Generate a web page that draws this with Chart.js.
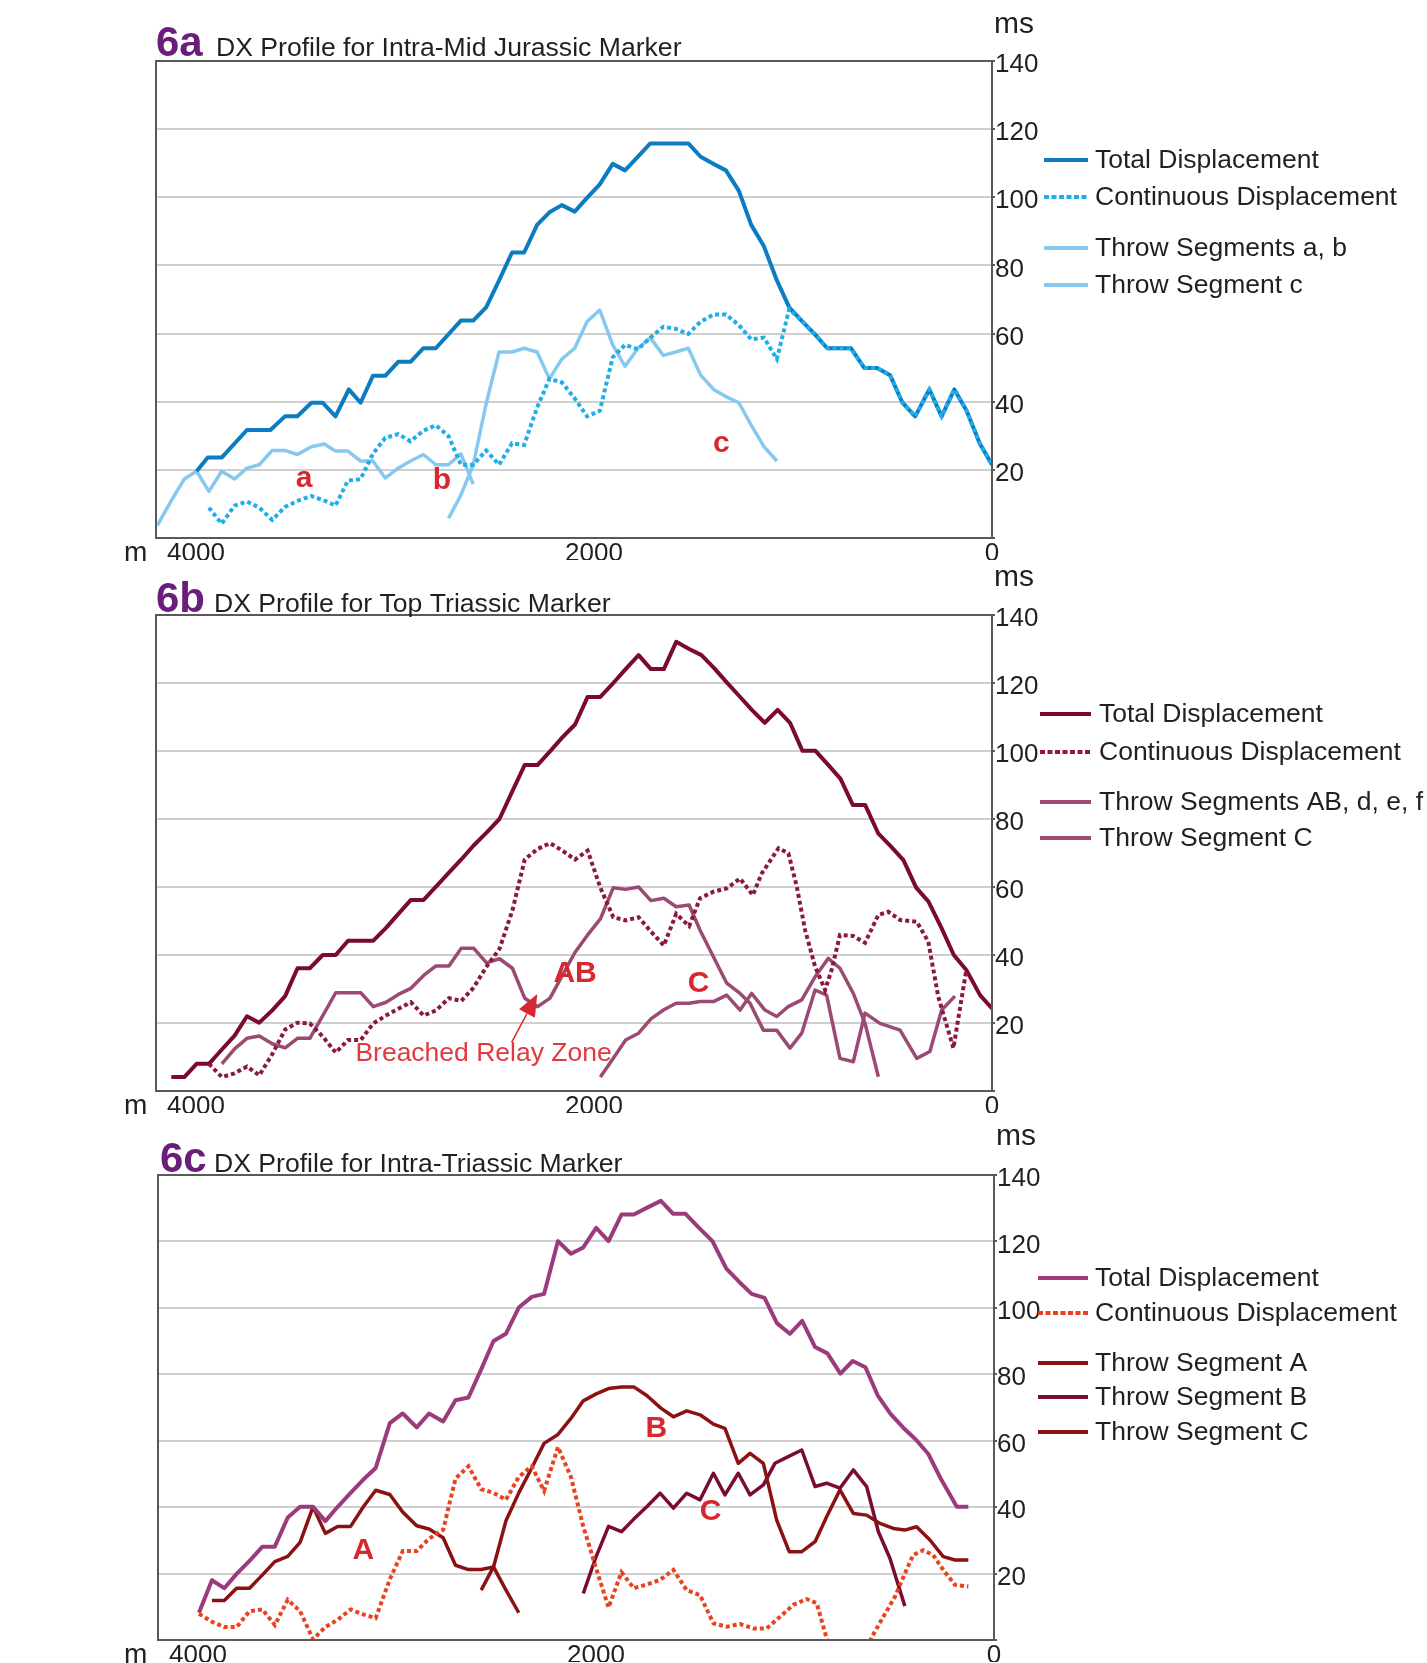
<!DOCTYPE html>
<html>
<head>
<meta charset="utf-8">
<script src="https://cdn.jsdelivr.net/npm/chart.js@4.4.1/dist/chart.umd.min.js"></script>
<style>
  html, body { margin: 0; padding: 0; background: #fff; }
  #wrap { position: relative; width: 1427px; height: 1663px; overflow: hidden; }
  canvas { position: absolute; left: 0; }
</style>
</head>
<body>
<div id="wrap">
  <canvas id="chart-a" width="1427" height="575" style="top:0px"></canvas>
  <canvas id="chart-b" width="1427" height="575" style="top:555px"></canvas>
  <canvas id="chart-c" width="1427" height="553" style="top:1110px"></canvas>
</div>
<script>
// shared axes
const xTicks = [4000, 2000, 0];
const yTicks = [0, 20, 40, 60, 80, 100, 120, 140];

// 6a Intra-Mid Jurassic marker  [distance m, ms]
const jurTotal = [[3997,19.6],[3941,23.6],[3871,23.6],[3744,31.7],[3626,31.7],[3553,35.7],[3491,35.7],[3420,39.7],[3364,39.7],[3299,35.7],[3232,43.6],[3173,39.7],[3111,47.6],[3049,47.6],[2984,51.7],[2922,51.7],[2857,55.7],[2795,55.7],[2669,63.8],[2607,63.8],[2542,67.7],[2477,75.6],[2412,83.8],[2351,83.8],[2286,91.9],[2224,95.6],[2162,97.7],[2097,95.8],[2035,99.8],[1971,103.8],[1906,109.8],[1844,107.9],[1779,111.9],[1717,115.8],[1590,115.8],[1526,115.8],[1464,111.9],[1399,109.8],[1337,107.9],[1272,101.9],[1210,91.9],[1146,85.6],[1081,75.6],[1019,67.7],[957,63.8],[892,59.9],[828,55.7],[709,55.7],[642,49.9],[577,49.9],[512,47.8],[450,39.7],[386,35.7],[315,43.6],[253,35.7],[189,43.6],[127,37.3],[62,27.8],[0,21.5]];
const jurContinuous = [[3935,8.9],[3871,4.2],[3806,9.5],[3744,10.7],[3682,8.9],[3617,5.3],[3553,9.1],[3485,11.0],[3420,12.3],[3355,11.0],[3299,9.5],[3237,16.8],[3173,17.3],[3111,24.7],[3049,29.4],[2984,30.5],[2922,28.4],[2857,31.5],[2795,33.1],[2731,29.9],[2669,21.5],[2607,21.5],[2542,25.7],[2477,21.5],[2412,27.8],[2351,27.3],[2286,38.3],[2224,46.7],[2162,45.7],[2097,41.0],[2035,35.7],[1971,37.3],[1906,53.0],[1844,56.7],[1779,55.4],[1717,58.8],[1652,62.0],[1590,61.4],[1526,59.9],[1464,63.5],[1399,65.6],[1337,65.6],[1272,62.5],[1210,58.3],[1146,58.8],[1081,52.5],[1019,67.2],[957,63.8],[892,59.9],[828,55.7],[709,55.7],[642,49.9],[577,49.9],[512,47.8],[450,39.7],[386,35.7],[315,43.6],[253,35.7],[189,43.6],[127,37.3],[62,27.8],[0,21.5]];
const jurThrowA = [[4194,3.7],[4124,11.0],[4059,17.3],[3997,19.6],[3935,13.7],[3871,19.6],[3806,17.3],[3744,20.5],[3682,21.5],[3617,25.7],[3553,25.7],[3491,24.5],[3420,26.8],[3355,27.6],[3299,25.5],[3237,25.5],[3173,22.6],[3111,22.6],[3049,17.6],[2984,20.5],[2922,22.6],[2857,24.5],[2795,21.5],[2731,21.5],[2669,24.7],[2607,15.8]];
const jurThrowB = [[2731,5.8],[2669,12.6],[2607,21.5],[2542,39.4],[2477,54.6],[2412,54.6],[2351,55.7],[2286,54.6],[2224,46.7]];
const jurThrowC = [[2224,46.7],[2162,52.5],[2097,55.7],[2035,63.5],[1971,66.9],[1906,56.7],[1844,50.4],[1779,55.7],[1717,58.8],[1652,53.6],[1590,54.6],[1526,55.7],[1464,47.8],[1399,43.6],[1337,41.5],[1272,39.7],[1210,33.1],[1146,26.8],[1081,22.6]];
const jurNotes = [['a',3457,17.3],['b',2764,16.8],['c',1360,27.8]];

// 6b Top Triassic marker
const topTotal = [[4124,4.1],[4059,4.1],[3997,8.0],[3935,8.0],[3870,12.2],[3806,16.3],[3744,22.0],[3682,20.1],[3617,23.7],[3552,27.9],[3490,36.1],[3428,36.1],[3363,40.0],[3298,40.0],[3236,44.2],[3109,44.2],[3045,48.0],[2983,52.1],[2920,56.2],[2856,56.2],[2794,60.1],[2729,64.2],[2667,68.1],[2605,72.2],[2540,76.0],[2475,80.0],[2410,88.2],[2348,95.9],[2283,95.9],[2221,99.9],[2159,104.0],[2095,107.8],[2032,115.9],[1968,115.9],[1903,120.0],[1841,124.1],[1776,128.2],[1714,124.1],[1649,124.1],[1587,132.1],[1522,130.0],[1460,128.2],[1395,124.3],[1333,120.2],[1269,116.1],[1207,112.1],[1142,108.3],[1077,112.1],[1015,108.3],[953,100.1],[888,100.1],[823,95.9],[761,91.8],[699,84.1],[637,84.1],[572,75.8],[507,71.9],[445,67.9],[381,59.8],[319,55.7],[254,48.0],[192,40.0],[129,35.6],[60,28.2],[0,24.3]];
const topContinuous = [[3935,8.0],[3870,4.1],[3806,5.2],[3744,7.2],[3682,4.6],[3617,10.8],[3552,18.1],[3490,20.1],[3428,19.9],[3363,16.0],[3298,11.3],[3236,15.0],[3172,15.0],[3109,19.9],[3045,22.2],[2983,24.2],[2920,26.1],[2856,22.2],[2794,23.7],[2729,27.3],[2667,26.5],[2605,30.4],[2540,36.6],[2475,41.8],[2410,53.1],[2348,68.1],[2283,71.2],[2221,72.9],[2159,70.7],[2095,68.1],[2032,70.7],[1968,59.8],[1903,51.1],[1841,50.2],[1776,51.1],[1714,46.9],[1649,42.8],[1587,52.1],[1522,48.5],[1467,56.7],[1400,58.6],[1333,59.6],[1266,62.5],[1202,57.6],[1157,64.0],[1073,71.4],[1023,69.9],[981,60.1],[939,47.3],[889,36.6],[839,29.7],[806,35.6],[764,45.9],[697,45.6],[638,43.6],[571,51.8],[521,52.7],[462,50.3],[378,49.8],[320,43.9],[270,27.7],[194,12.6],[129,35.6]];
const topThrowABdef = [[3870,8.0],[3806,12.4],[3744,15.5],[3682,16.2],[3617,13.9],[3552,12.7],[3490,15.5],[3428,15.5],[3363,22.2],[3298,28.9],[3236,28.9],[3172,28.9],[3109,24.8],[3045,26.1],[2983,28.4],[2920,30.2],[2856,34.0],[2794,36.8],[2729,36.8],[2667,42.0],[2605,42.0],[2540,37.7],[2475,38.9],[2410,36.1],[2348,27.3],[2283,24.8],[2221,27.3],[2159,34.0],[2095,40.8],[2032,45.9],[1968,50.6],[1903,59.8],[1841,59.3],[1776,60.0],[1714,56.0],[1649,56.7],[1587,54.2],[1522,54.7],[1467,47.3],[1400,39.5],[1333,31.7],[1266,28.7],[1216,25.8],[1149,17.9],[1082,17.9],[1015,12.6],[956,17.0],[889,29.7],[831,28.2],[764,9.6],[697,8.6],[638,22.9],[563,19.9],[462,17.9],[378,9.6],[312,11.6],[253,23.8],[186,27.9]];
const topThrowC = [[1968,4.1],[1903,9.6],[1841,15.0],[1776,17.0],[1714,21.2],[1649,23.9],[1587,25.8],[1522,25.8],[1467,26.3],[1400,26.3],[1333,28.2],[1266,23.8],[1208,28.7],[1141,23.8],[1082,21.9],[1024,24.8],[956,26.8],[889,33.6],[823,39.0],[764,36.1],[697,28.7],[638,19.9],[571,4.2]];
const topNotes = [['AB',2095,34.6],['C',1474,31.5]];
const topArrow = { tail: [2414,14.3], tip: [2285,28.5] };
const topArrowText = ['Breached Relay Zone', 2555, 10.9];

// 6c Intra-Triassic marker
const intraTotal = [[3995,8.2],[3930,18.0],[3868,15.6],[3806,19.9],[3741,23.8],[3676,28.1],[3614,28.1],[3549,36.9],[3487,40.1],[3422,40.1],[3360,35.8],[3298,40.1],[3233,44.3],[3169,48.3],[3107,51.8],[3036,65.3],[2971,68.2],[2901,64.0],[2839,68.2],[2768,65.8],[2706,72.2],[2641,73.0],[2577,81.5],[2515,90.0],[2453,92.2],[2388,100.1],[2323,103.3],[2261,104.2],[2191,120.1],[2126,116.3],[2064,118.2],[1999,124.1],[1937,120.1],[1872,128.1],[1810,128.1],[1745,130.1],[1674,132.2],[1612,128.3],[1550,128.3],[1486,124.3],[1415,120.1],[1345,111.8],[1280,107.8],[1218,104.2],[1153,103.0],[1091,95.4],[1026,92.2],[964,96.1],[899,88.2],[837,86.3],[772,80.2],[710,84.0],[646,82.1],[584,73.6],[519,68.0],[457,64.0],[392,60.3],[330,56.0],[265,48.3],[187,40.1],[129,40.1]];
const intraContinuous = [[3995,7.9],[3930,5.5],[3868,3.9],[3806,3.9],[3741,8.7],[3676,9.2],[3614,4.5],[3549,12.1],[3487,8.7],[3422,0.2],[3360,3.9],[3298,6.1],[3233,9.2],[3169,7.7],[3107,6.6],[3036,18.3],[2971,26.8],[2901,26.8],[2839,30.5],[2768,33.2],[2706,48.6],[2641,52.3],[2577,45.4],[2515,44.3],[2453,42.2],[2388,49.1],[2323,52.3],[2261,44.9],[2191,58.1],[2126,49.1],[2064,34.2],[1999,21.5],[1937,9.8],[1872,20.4],[1810,15.6],[1745,16.7],[1678,18.1],[1611,21.1],[1544,15.0],[1477,13.5],[1410,5.0],[1343,4.0],[1276,4.8],[1209,3.5],[1142,3.5],[1075,7.0],[1008,10.6],[941,12.3],[891,11.1],[841,0.5],[800,-6],[660,-6],[615,0.8],[556,7.0],[497,13.1],[448,20.0],[406,25.6],[356,27.0],[306,25.6],[255,21.1],[196,16.6],[129,16.1]];
const intraThrowA = [[3930,11.9],[3868,11.9],[3806,15.6],[3741,15.6],[3676,19.6],[3614,23.6],[3549,25.2],[3487,29.4],[3422,40.1],[3360,32.1],[3298,34.2],[3233,34.2],[3169,40.1],[3107,45.1],[3036,43.8],[2971,38.5],[2901,34.4],[2839,33.4],[2768,30.8],[2706,22.5],[2641,21.2],[2577,21.2],[2515,22.0],[2453,15.1],[2388,8.2]];
const intraThrowB = [[2577,15.0],[2515,22.0],[2453,35.8],[2388,44.3],[2323,51.8],[2261,59.2],[2191,61.9],[2126,66.7],[2064,72.0],[1999,74.1],[1937,75.7],[1872,76.2],[1810,76.2],[1745,73.6],[1674,69.8],[1611,67.2],[1544,69.0],[1477,67.8],[1410,65.0],[1352,63.7],[1285,53.2],[1226,56.2],[1159,53.2],[1092,36.1],[1029,26.6],[966,26.6],[899,29.6],[841,37.1],[774,45.2],[707,38.1],[640,37.6],[573,35.1],[506,33.6],[448,33.1],[389,34.1],[322,30.1],[255,25.1],[196,24.1],[129,24.1]];
const intraThrowC = [[2064,14.0],[1999,25.2],[1937,34.2],[1872,32.6],[1810,36.4],[1745,40.1],[1678,44.2],[1611,39.7],[1544,44.2],[1477,42.2],[1410,50.2],[1352,43.7],[1285,50.2],[1226,43.7],[1159,46.7],[1101,53.2],[1034,55.2],[966,57.2],[899,46.2],[841,47.2],[774,45.7],[707,51.2],[640,46.2],[581,32.6],[523,24.6],[448,10.2]];
const intraNotes = [['A',3169,26.8],['B',1697,63.5],['C',1424,38.5]];

const FONT = '"Liberation Sans", Arial, Helvetica, sans-serif';
const INK = '#231f20';
const DOT = [4, 3];

function pts(arr) {
  return arr.map(p => ({ x: p[0], y: p[1] }));
}
function withGap(a, b) {
  return pts(a).concat([{ x: (a[a.length - 1][0] + b[0][0]) / 2, y: null }], pts(b));
}

/* draws frame, titles, legend and notes */
const decor = {
  id: 'decor',
  afterDraw(chart, args, o) {
    const ctx = chart.ctx, a = chart.chartArea;
    const xs = chart.scales.x, ys = chart.scales.y;
    ctx.save();
    ctx.strokeStyle = '#58595b';
    ctx.lineWidth = 2;
    ctx.setLineDash([]);
    ctx.strokeRect(a.left, a.top, a.right - a.left, a.bottom - a.top);

    ctx.textBaseline = 'alphabetic';
    ctx.textAlign = 'left';
    ctx.fillStyle = '#6b1d7b';
    ctx.font = 'bold 42px ' + FONT;
    ctx.fillText(o.tag, o.tagX, o.titleBase);
    ctx.fillStyle = INK;
    ctx.font = '26.6px ' + FONT;
    ctx.fillText(o.title, o.titleX, o.titleBase);

    ctx.textBaseline = 'middle';
    ctx.font = '30px ' + FONT;
    ctx.fillText('ms', a.right + 2, o.msY);
    ctx.font = '28px ' + FONT;
    ctx.fillText('m', 124, a.bottom + 15);

    o.legend.forEach(item => {
      ctx.strokeStyle = item.color;
      ctx.lineWidth = 4;
      ctx.lineCap = 'butt';
      ctx.setLineDash(item.dash ? [5, 2.5] : []);
      ctx.beginPath();
      ctx.moveTo(o.legendX, item.y);
      ctx.lineTo(o.legendX + o.legendW, item.y);
      ctx.stroke();
      ctx.setLineDash([]);
      ctx.fillStyle = INK;
      ctx.font = '26.5px ' + FONT;
      ctx.fillText(item.text, o.legendX + o.legendW + o.legendGap, item.y + 1);
    });

    ctx.fillStyle = '#d7282f';
    ctx.font = 'bold 30px ' + FONT;
    ctx.textAlign = 'center';
    (o.notes || []).forEach(n => {
      ctx.fillText(n[0], xs.getPixelForValue(n[1]), ys.getPixelForValue(n[2]));
    });

    if (o.arrow) {
      const tx = xs.getPixelForValue(o.arrow.tail[0]), ty = ys.getPixelForValue(o.arrow.tail[1]);
      const hx = xs.getPixelForValue(o.arrow.tip[0]), hy = ys.getPixelForValue(o.arrow.tip[1]);
      const ang = Math.atan2(hy - ty, hx - tx);
      const hl = 22, hw = 9;
      const bx = hx - hl * Math.cos(ang), by = hy - hl * Math.sin(ang);
      ctx.strokeStyle = '#d7282f';
      ctx.fillStyle = '#d7282f';
      ctx.lineWidth = 1.5;
      ctx.beginPath();
      ctx.moveTo(tx, ty);
      ctx.lineTo(bx, by);
      ctx.stroke();
      ctx.beginPath();
      ctx.moveTo(hx, hy);
      ctx.lineTo(bx + hw * Math.sin(ang), by - hw * Math.cos(ang));
      ctx.lineTo(bx - hw * Math.sin(ang), by + hw * Math.cos(ang));
      ctx.closePath();
      ctx.fill();
      const t = o.arrowText;
      ctx.font = '26.5px ' + FONT;
      ctx.fillStyle = '#e0393e';
      ctx.fillText(t[0], xs.getPixelForValue(t[1]), ys.getPixelForValue(t[2]));
    }
    ctx.restore();
  }
};

function line(label, data, color, width, dashed, order) {
  return {
    label: label,
    data: data,
    borderColor: color,
    backgroundColor: color,
    borderWidth: width,
    borderDash: dashed ? DOT : [],
    borderCapStyle: 'butt',
    borderJoinStyle: dashed ? 'miter' : 'round',
    pointRadius: 0,
    tension: 0,
    fill: false,
    spanGaps: false,
    clip: 0,
    order: order
  };
}

function createChart(canvasId, top, area, datasets, decorOpts) {
  const canvas = document.getElementById(canvasId);
  const h = canvas.height;
  const yAxisW = 1427 - area.right;
  const xAxisH = 22;
  Object.assign(decorOpts, {
    titleBase: decorOpts.titleBase - top,
    msY: decorOpts.msY - top,
    legend: decorOpts.legend.map(it => Object.assign({}, it, { y: it.y - top }))
  });
  return new Chart(canvas, {
    type: 'line',
    data: { datasets: datasets },
    options: {
      responsive: false,
      animation: false,
      devicePixelRatio: 1,
      layout: {
        padding: { left: area.left, right: 0, top: area.top - top, bottom: h - (area.bottom - top) - xAxisH }
      },
      plugins: {
        legend: { display: false },
        tooltip: { enabled: false },
        decor: decorOpts
      },
      scales: {
        x: {
          type: 'linear',
          reverse: true,
          min: 0,
          max: 4201,
          afterBuildTicks: s => { s.ticks = xTicks.map(v => ({ value: v })); },
          afterFit: s => { s.height = xAxisH; },
          grid: { display: false, drawTicks: false },
          border: { display: false },
          ticks: {
            padding: 0,
            maxRotation: 0,
            autoSkip: false,
            color: INK,
            font: { family: FONT, size: 26 },
            callback: v => String(v)
          }
        },
        y: {
          type: 'linear',
          position: 'right',
          min: 0,
          max: 140,
          afterBuildTicks: s => { s.ticks = yTicks.map(v => ({ value: v })); },
          afterFit: s => { s.width = yAxisW; },
          grid: { color: '#cfcfcf', lineWidth: 2, tickLength: 3, tickColor: '#58595b' },
          border: { display: true, color: '#58595b', width: 2 },
          ticks: {
            padding: 0,
            labelOffset: 4,
            color: INK,
            font: { family: FONT, size: 26 },
            callback: v => (v === 0 ? '' : String(v))
          }
        }
      }
    },
    plugins: [decor]
  });
}

// 6a
createChart('chart-a', 0, { left: 156, right: 992, top: 61, bottom: 538 }, [
  line('Continuous Displacement', pts(jurContinuous), '#1eaee9', 4, true, 0),
  line('Total Displacement', pts(jurTotal), '#0b7cc1', 4, false, 1),
  line('Throw Segments a, b', withGap(jurThrowA, jurThrowB), '#86c8ef', 3.5, false, 2),
  line('Throw Segment c', pts(jurThrowC), '#86c8ef', 3.5, false, 2)
], {
  tag: '6a', tagX: 156, title: 'DX Profile for Intra-Mid Jurassic Marker', titleX: 216, titleBase: 56,
  msY: 25, legendX: 1044, legendW: 44, legendGap: 7,
  legend: [
    { text: 'Total Displacement', color: '#0b7cc1', y: 160 },
    { text: 'Continuous Displacement', color: '#1eaee9', dash: true, y: 197 },
    { text: 'Throw Segments a, b', color: '#86c8ef', y: 248 },
    { text: 'Throw Segment c', color: '#86c8ef', y: 285 }
  ],
  notes: jurNotes
});

// 6b
createChart('chart-b', 555, { left: 156, right: 992, top: 615, bottom: 1091 }, [
  line('Continuous Displacement', pts(topContinuous), '#8a1a3c', 4, true, 0),
  line('Total Displacement', pts(topTotal), '#7a0b2c', 4, false, 1),
  line('Throw Segments AB, d, e, f', pts(topThrowABdef), '#9b4a74', 3.5, false, 2),
  line('Throw Segment C', pts(topThrowC), '#9b4a74', 3.5, false, 2)
], {
  tag: '6b', tagX: 156, title: 'DX Profile for Top Triassic Marker', titleX: 214, titleBase: 612,
  msY: 578, legendX: 1040, legendW: 51, legendGap: 8,
  legend: [
    { text: 'Total Displacement', color: '#7a0b2c', y: 714 },
    { text: 'Continuous Displacement', color: '#8a1a3c', dash: true, y: 752 },
    { text: 'Throw Segments AB, d, e, f', color: '#9b4a74', y: 802 },
    { text: 'Throw Segment C', color: '#9b4a74', y: 838 }
  ],
  notes: topNotes,
  arrow: topArrow,
  arrowText: topArrowText
});

// 6c
createChart('chart-c', 1110, { left: 158, right: 994, top: 1175, bottom: 1640 }, [
  line('Continuous Displacement', pts(intraContinuous), '#e8431e', 4, true, 0),
  line('Total Displacement', pts(intraTotal), '#9b3b7b', 4, false, 1),
  line('Throw Segment A', pts(intraThrowA), '#8b1212', 3.5, false, 2),
  line('Throw Segment B', pts(intraThrowB), '#8b1212', 3.5, false, 2),
  line('Throw Segment C', pts(intraThrowC), '#7a0c34', 3.5, false, 2)
], {
  tag: '6c', tagX: 160, title: 'DX Profile for Intra-Triassic Marker', titleX: 214, titleBase: 1172,
  msY: 1137, legendX: 1038, legendW: 50, legendGap: 7,
  legend: [
    { text: 'Total Displacement', color: '#9b3b7b', y: 1278 },
    { text: 'Continuous Displacement', color: '#e8431e', dash: true, y: 1313 },
    { text: 'Throw Segment A', color: '#8b1212', y: 1363 },
    { text: 'Throw Segment B', color: '#7a0c34', y: 1397 },
    { text: 'Throw Segment C', color: '#8b1212', y: 1432 }
  ],
  notes: intraNotes
});
</script>
</body>
</html>
